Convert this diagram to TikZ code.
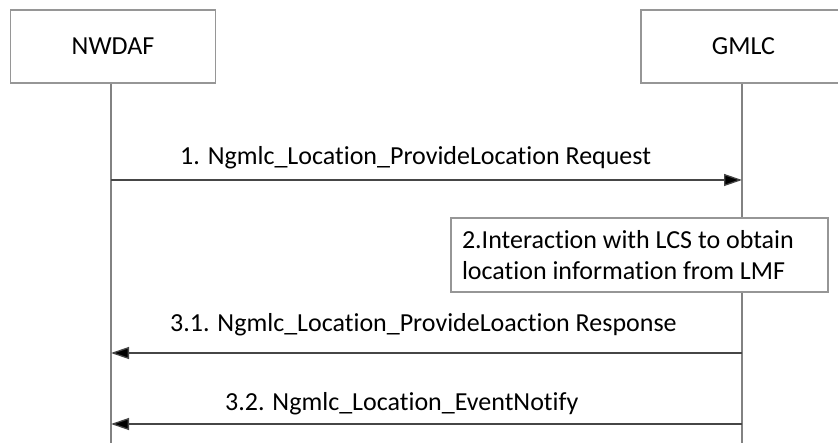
\documentclass[tikz,border=0pt]{standalone}
\usepackage{fontspec}
\setmainfont{Carlito}[Ligatures=NoCommon]
\usetikzlibrary{arrows.meta, positioning}
\definecolor{boxgray}{RGB}{150, 150, 150}
\definecolor{lifegray}{RGB}{130, 130, 130}
\definecolor{msggray}{RGB}{70, 70, 70}
\tikzset{
    entity/.style={rectangle, draw=boxgray, fill=white, text=black, line width=1.5pt, minimum width=205pt, minimum height=73pt, align=center, font=\fontsize{26}{31}\selectfont},
    action/.style={rectangle, draw=boxgray, fill=white, text=black, line width=1.5pt, minimum width=377pt, minimum height=74pt, text width=355pt, inner xsep=11pt, align=flush left, font=\fontsize{26}{31}\selectfont},
    lifeline/.style={lifegray, line width=1.5pt},
    msg/.style={-{Triangle[length=18pt, width=12pt, fill=black]}, msggray, line width=1.3pt},
    msglabel/.style={anchor=base west, inner sep=0pt, text=black, font=\fontsize{26}{31}\selectfont}
}
\begin{document}
\begin{tikzpicture}[x=1pt, y=-1pt]
            \useasboundingbox (0,0) rectangle (838,443);
            \clip (0,0) rectangle (838,443);
            \node (nwdaf) [entity] at (113,46.5) {NWDAF};
            \node (gmlc) [entity, right=424pt of nwdaf] {GMLC};

            \coordinate (nwdafend) at (111,443);
            \coordinate (gmlcend) at (742,443);
            \draw [lifeline] (nwdaf.south -| nwdafend) -- (nwdafend);
            \draw [lifeline] (gmlc.south -| gmlcend) -- (gmlcend);

            \coordinate (n1) at (nwdafend |- 0,180);
            \coordinate (g1) at (gmlcend |- 0,180);
            \coordinate (n31) at (nwdafend |- 0,353);
            \coordinate (g31) at (gmlcend |- 0,353);
            \coordinate (n32) at (nwdafend |- 0,424);
            \coordinate (g32) at (gmlcend |- 0,424);

            \node (lcs) [action] at (639.5,255) {2.Interaction with LCS to obtain\\location information from LMF};

            \draw [msg] (n1) -- (g1);
            \draw [msg] (g31) -- (n31);
            \draw [msg] (g32) -- (n32);

            \node (lbl1) [msglabel] at (180,165) {1. Ngmlc\_Location\_ProvideLocation Request};
            \node (lbl31) [msglabel] at (170,332) {3.1. Ngmlc\_Location\_ProvideLoaction Response};
            \node (lbl32) [msglabel] at (225,410) {3.2. Ngmlc\_Location\_EventNotify};
        \end{tikzpicture}
\end{document}
